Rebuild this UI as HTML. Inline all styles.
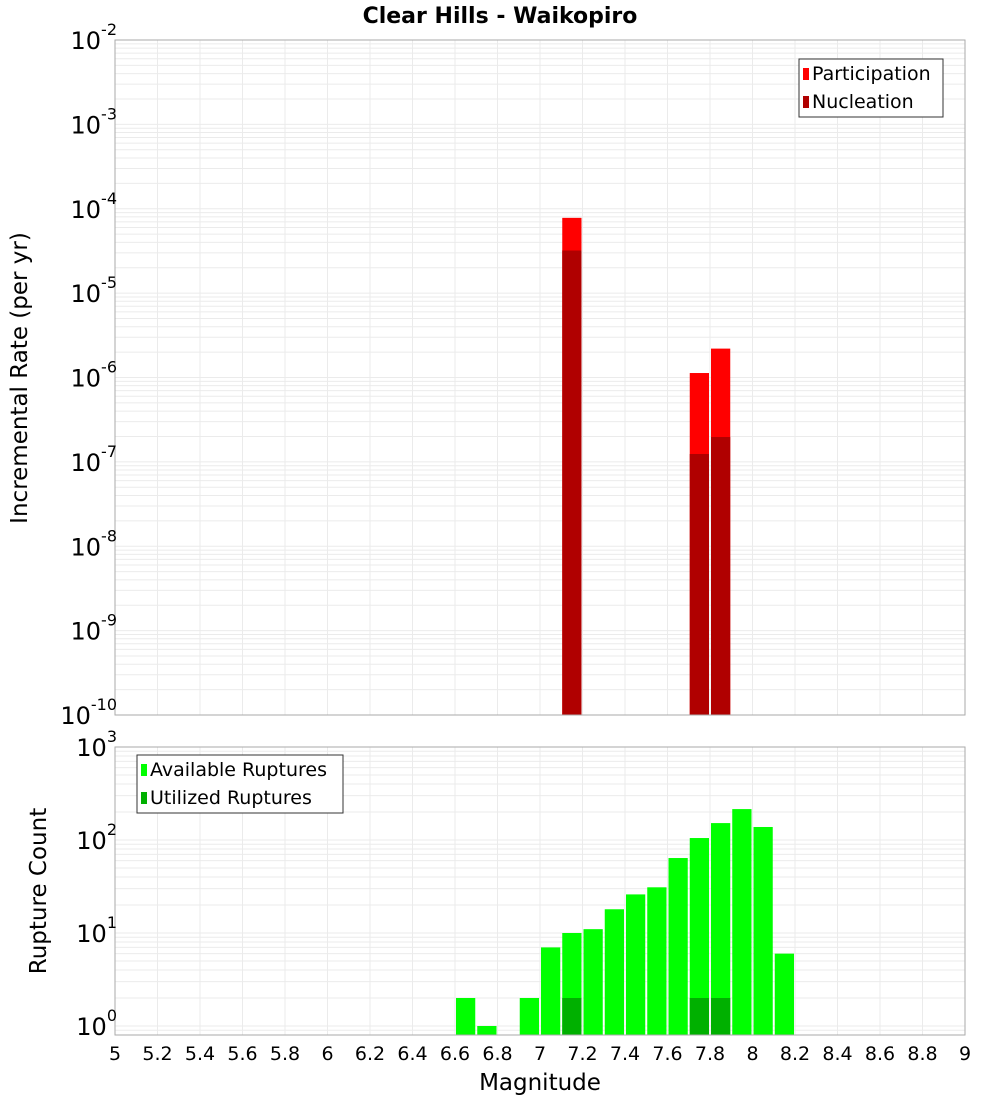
<!DOCTYPE html>
<html><head><meta charset="utf-8"><style>
body{margin:0;background:#fff;font-family:"Liberation Sans","DejaVu Sans",sans-serif}
svg text{font-family:"DejaVu Sans","Liberation Sans",sans-serif}
</style></head><body>
<svg id="c" width="1000" height="1100" xmlns="http://www.w3.org/2000/svg">
<text x="500" y="23" text-anchor="middle" font-size="22" font-weight="bold">Clear Hills - Waikopiro</text>
<text transform="translate(27,378) rotate(-90)" text-anchor="middle" font-size="23">Incremental Rate (per yr)</text>
<text transform="translate(46,891) rotate(-90)" text-anchor="middle" font-size="23">Rupture Count</text>
<text x="540" y="1090" text-anchor="middle" font-size="23">Magnitude</text>
<g id="g"></g>
</svg>
<script>
const rateBins=[7.15,7.75,7.85];
const participation=[7.8e-5,1.13e-6,2.2e-6];
const nucleation=[3.2e-5,1.24e-7,1.97e-7];
const countBins=[6.65,6.75,6.95,7.05,7.15,7.25,7.35,7.45,7.55,7.65,7.75,7.85,7.95,8.05,8.15];
const available=[2,1,2,7,10,11,18,26,31,64,105,152,215,138,6];
const utilBins=[7.15,7.75,7.85];
const utilized=[2,2,2];
const xTicks=[5,5.2,5.4,5.6,5.8,6,6.2,6.4,6.6,6.8,7,7.2,7.4,7.6,7.8,8,8.2,8.4,8.6,8.8,9];
const topExp=[-2,-3,-4,-5,-6,-7,-8,-9,-10];
const botExp=[3,2,1,0];

const NS='http://www.w3.org/2000/svg',G=document.getElementById('g');
function mk(t,a,txt){const e=document.createElementNS(NS,t);for(const k in a)e.setAttribute(k,a[k]);if(txt!=null)e.textContent=txt;G.appendChild(e);return e;}
const X0=115,X1=965;const xs=m=>X0+(m-5)/4*(X1-X0);
const T0=40,T1=715;const yt=v=>T0+(-2-Math.log10(v))*(T1-T0)/8;
const B0=747,B1=1035;const yb=v=>1026-Math.log10(v)*93;
const BW=0.1;
function grid(y0,y1,ylo,yhi,yf){
  for(let e=ylo;e<yhi;e++)for(let k=1;k<10;k++){const y=yf(k*Math.pow(10,e));if(y<y0-0.5||y>y1+0.5)continue;
    const l=mk('line',{x1:X0,x2:X1,y1:y,y2:y,stroke:'#ebebeb','stroke-width':1});
    }
  xTicks.forEach(t=>{const l=mk('line',{x1:xs(t),x2:xs(t),y1:y0,y2:y1,stroke:'#ebebeb','stroke-width':1});
    });
}
grid(T0,T1,-10,-2,yt);grid(B0,B1,-1,3,yb);
function bar(m,v,base,yf,fill,name){const x=xs(m-BW/2)+1,w=xs(m+BW/2)-xs(m-BW/2)-2,y=yf(v);
  const r=mk('rect',{x:x,y:y,width:w,height:base-y,fill:fill});
  }
rateBins.forEach((m,i)=>bar(m,participation[i],T1,yt,'#ff0000','participation-bar'));
rateBins.forEach((m,i)=>bar(m,nucleation[i],T1,yt,'#b00000','nucleation-bar'));
countBins.forEach((m,i)=>bar(m,available[i],B1,yb,'#00ff00','available-bar'));
utilBins.forEach((m,i)=>bar(m,utilized[i],B1,yb,'#00b000','utilized-bar'));
[[T0,T1],[B0,B1]].forEach(([a,b])=>{const r=mk('rect',{x:X0,y:a,width:X1-X0,height:b-a,fill:'none',stroke:'#aaa'});
  });
function ylab(y,e,name){const t=mk('text',{x:117,y:y+9,'text-anchor':'end','font-size':24});
  
  t.textContent='10';const s=document.createElementNS(NS,'tspan');s.setAttribute('dy','-14');s.setAttribute('font-size','16');s.textContent=String(e);t.appendChild(s);}
topExp.forEach(e=>ylab(yt(Math.pow(10,e)),e,'top-y-tick-label'));
botExp.forEach(e=>ylab(yb(Math.pow(10,e)),e,'bottom-y-tick-label'));
xTicks.forEach(t=>{const e=mk('text',{x:xs(t),y:1060,'text-anchor':'middle','font-size':19},String(t));
  });
function legend(x,y,w,items,name){const r=mk('rect',{x:x,y:y,width:w,height:58,fill:'#fff',stroke:'#333'});
  
  items.forEach(([c,l],i)=>{const s=mk('rect',{x:x+4,y:y+9+i*28,width:6,height:12,fill:c});
    
    const t=mk('text',{x:x+13,y:y+21+i*28,'font-size':19},l);
    });}
legend(799,59,144,[['#ff0000','Participation'],['#b00000','Nucleation']],'top-legend');
legend(137,755,206,[['#00ff00','Available Ruptures'],['#00b000','Utilized Ruptures']],'bottom-legend');
</script>
</body></html>
